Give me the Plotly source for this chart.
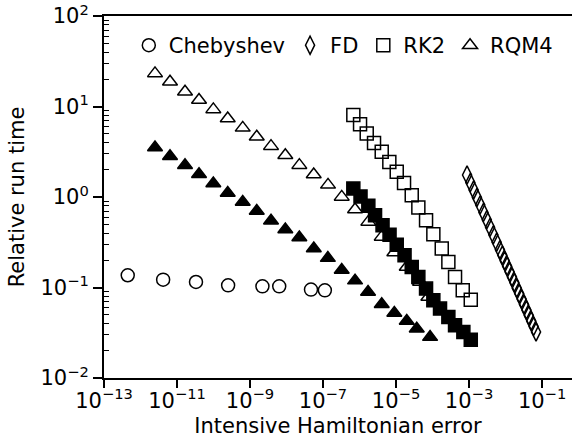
import numpy as np
import plotly.graph_objects as go

# ---- data (log10 of error, log10 of relative run time) ----
cheb_log_err = [-12.35, -11.38, -10.48, -9.60, -8.66, -8.20, -7.33, -6.95]
cheb_log_time = [-0.865, -0.913, -0.939, -0.976, -0.987, -0.987, -1.023, -1.031]

fd_log_err = [-3.055, -2.965, -2.875, -2.785, -2.695, -2.605, -2.515, -2.425, -2.335,
              -2.245, -2.155, -2.089, -2.023, -1.957, -1.891, -1.825, -1.759, -1.693,
              -1.627, -1.561, -1.495, -1.429, -1.363, -1.297, -1.231, -1.165]
fd_log_time = [0.243, 0.160, 0.078, -0.005, -0.087, -0.170, -0.252, -0.335, -0.418,
               -0.500, -0.583, -0.643, -0.704, -0.764, -0.825, -0.885, -0.946, -1.007,
               -1.067, -1.128, -1.188, -1.249, -1.309, -1.370, -1.430, -1.491]

rk2_open_log_err = [-6.170, -5.986, -5.803, -5.603, -5.392, -5.184, -4.981, -4.781, -4.570,
                    -4.389, -4.178, -3.978, -3.748, -3.567, -3.384, -3.173, -2.953]
rk2_open_log_time = [0.905, 0.805, 0.702, 0.598, 0.499, 0.388, 0.278, 0.156, 0.020,
                     -0.116, -0.257, -0.412, -0.570, -0.718, -0.884, -1.031, -1.134]

rk2_fill_log_err = [-6.170, -5.973, -5.759, -5.575, -5.370, -5.178, -4.981, -4.767, -4.570,
                    -4.389, -4.178, -3.978, -3.795, -3.567, -3.384, -3.156, -2.953]
rk2_fill_log_time = [0.094, 0.006, -0.096, -0.201, -0.312, -0.417, -0.528, -0.644, -0.773,
                     -0.884, -1.012, -1.142, -1.233, -1.326, -1.418, -1.492, -1.576]

rqm4_open_log_err = [-11.603, -11.192, -10.781, -10.397, -10.005, -9.611, -9.200, -8.816,
                     -8.425, -8.033, -7.649, -7.255, -6.863, -6.488, -6.123, -5.759, -5.392,
                     -5.047, -4.707, -4.342, -4.115]
rqm4_open_log_time = [1.366, 1.273, 1.163, 1.071, 0.968, 0.868, 0.764, 0.665, 0.562, 0.462,
                      0.352, 0.249, 0.134, 0.001, -0.138, -0.275, -0.441, -0.614, -0.773,
                      -0.939, -1.105]

rqm4_fill_log_err = [-11.603, -11.192, -10.781, -10.397, -10.005, -9.611, -9.200, -8.816,
                     -8.425, -8.033, -7.649, -7.253, -6.868, -6.488, -6.123, -5.767, -5.392,
                     -5.047, -4.707, -4.433, -4.068]
rqm4_fill_log_time = [0.548, 0.451, 0.352, 0.252, 0.149, 0.045, -0.054, -0.154, -0.262,
                      -0.358, -0.448, -0.570, -0.675, -0.806, -0.924, -1.050, -1.186, -1.282,
                      -1.371, -1.455, -1.548]

x_tick_exps = [-13, -11, -9, -7, -5, -3, -1]
y_tick_exps = [-2, -1, 0, 1, 2]

def p10(a):
    return np.power(10.0, np.array(a))

def sup(e):
    s = str(e).replace("-", "\u2212")
    return "10<sup>" + s + "</sup>"

FONT = "DejaVu Sans"
LW = 1.5

fig = go.Figure()

def add(xl, yl, name, symbol, size, show=True):
    fig.add_trace(go.Scatter(
        x=p10(xl), y=p10(yl), mode="markers", name=name, showlegend=show,
        marker=dict(symbol=symbol, size=size, color="black",
                    line=dict(color="black", width=LW)),
    ))

add(cheb_log_err, cheb_log_time, "Chebyshev", "circle-open", 13)
add(fd_log_err, fd_log_time, "FD", "diamond-tall-open", 13)
add(rk2_open_log_err, rk2_open_log_time, "RK2", "square-open", 13)
add(rqm4_open_log_err, rqm4_open_log_time, "RQM4", "triangle-up-open", 13)
add(rqm4_fill_log_err, rqm4_fill_log_time, "RQM4 filled", "triangle-up", 13, show=False)
add(rk2_fill_log_err, rk2_fill_log_time, "RK2 filled", "square", 13, show=False)

minor_y = [k * 10.0 ** e for e in range(-2, 2) for k in range(2, 10)]

fig.update_layout(
    width=572, height=441,
    margin=dict(l=104, r=0, t=16, b=63),
    plot_bgcolor="white", paper_bgcolor="white",
    font=dict(family=FONT, size=21, color="black"),
    showlegend=True,
    legend=dict(orientation="h", x=0.053, xanchor="left", y=0.975, yanchor="top",
                font=dict(family=FONT, size=21, color="black"),
                bgcolor="rgba(0,0,0,0)", itemclick=False),
    xaxis=dict(
        type="log", range=[-13, -0.18],
        showline=True, linecolor="black", linewidth=2, mirror=True,
        showgrid=False, zeroline=False,
        ticks="outside", ticklen=8, tickwidth=2, tickcolor="black",
        ticklabelstandoff=-5,
        tickmode="array", tickvals=[10.0 ** e for e in x_tick_exps],
        ticktext=[sup(e) for e in x_tick_exps],
        title=dict(text="Intensive Hamiltonian error", font=dict(size=21), standoff=6),
    ),
    yaxis=dict(
        type="log", range=[-2, 2],
        showline=True, linecolor="black", linewidth=2, mirror=False,
        showgrid=False, zeroline=False,
        ticks="outside", ticklen=9, tickwidth=2, tickcolor="black",
        tickmode="array", tickvals=[10.0 ** e for e in y_tick_exps],
        ticktext=[sup(e) for e in y_tick_exps],
        minor=dict(ticks="inside", ticklen=5, tickwidth=1, tickcolor="black",
                   tickmode="array", tickvals=minor_y, showgrid=False),
        title=dict(text="Relative run time", font=dict(size=21), standoff=10),
    ),
)

fig.write_html("out.html")
